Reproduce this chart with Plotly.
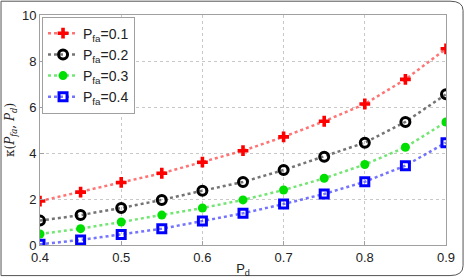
import plotly.graph_objects as go

pd_vals = [0.4, 0.45, 0.5, 0.55, 0.6, 0.65, 0.7, 0.75, 0.8, 0.85, 0.9]
k_01 = [1.91, 2.30, 2.72, 3.12, 3.60, 4.10, 4.70, 5.38, 6.13, 7.20, 8.53]
k_02 = [1.06, 1.30, 1.61, 1.96, 2.36, 2.74, 3.26, 3.84, 4.45, 5.35, 6.55]
k_03 = [0.48, 0.71, 1.00, 1.30, 1.61, 1.96, 2.39, 2.90, 3.50, 4.25, 5.35]
k_04 = [0.03, 0.22, 0.46, 0.71, 1.04, 1.38, 1.78, 2.22, 2.75, 3.45, 4.45]
names = ["P<sub>fa</sub>=0.1", "P<sub>fa</sub>=0.2", "P<sub>fa</sub>=0.3", "P<sub>fa</sub>=0.4"]
x_ticks = [0.4, 0.5, 0.6, 0.7, 0.8, 0.9]
y_ticks = [0, 2, 4, 6, 8, 10]

fig = go.Figure()
styles = [
    dict(color="#ff0000", line="rgba(255,70,70,0.75)", symbol="cross", size=9, lw=0),
    dict(color="#000000", line="rgba(70,70,70,0.75)", symbol="circle-open", size=9, lw=3),
    dict(color="#00e000", line="rgba(70,220,70,0.75)", symbol="circle", size=9, lw=0),
    dict(color="#0000ff", line="rgba(70,70,255,0.75)", symbol="square-open", size=8, lw=3),
]
for ys, nm, st in zip([k_01, k_02, k_03, k_04], names, styles):
    fig.add_trace(go.Scatter(
        x=pd_vals, y=ys, name=nm, mode="lines+markers",
        line=dict(color=st["line"], width=2.5, dash="dot"),
        marker=dict(symbol=st["symbol"], size=st["size"], color=st["color"],
                    line=dict(color=st["color"], width=st["lw"])),
    ))

axis_common = dict(
    showline=True, linecolor="#a0a0a0", linewidth=1, mirror=True,
    ticks="inside", ticklen=4, tickcolor="#a0a0a0",
    showgrid=True, gridcolor="#c8c8c8", griddash="dot", gridwidth=1,
    zeroline=False, automargin=False,
    tickfont=dict(family="Liberation Sans, Arial", size=13, color="#222"),
)
fig.update_xaxes(range=[0.4, 0.9], tickvals=x_ticks, ticktext=[str(v) for v in x_ticks],
                 title=dict(text="P<sub>d</sub>", font=dict(family="Liberation Sans, Arial", size=13, color="#222"), standoff=2),
                 **axis_common)
fig.update_yaxes(range=[0, 10], tickvals=y_ticks,
                 title=dict(text="κ(<i>P<sub>fa</sub></i>, <i>P<sub>d</sub></i>)",
                            font=dict(family="DejaVu Serif, serif", size=12, color="#222"), standoff=4),
                 **axis_common)

fig.update_layout(
    width=465, height=278,
    margin=dict(l=40, r=19, t=15, b=33),
    paper_bgcolor="white", plot_bgcolor="white",
    showlegend=True,
    legend=dict(x=0.005, y=0.993, xanchor="left", yanchor="top",
                bgcolor="white", bordercolor="#a0a0a0", borderwidth=1,
                font=dict(family="Liberation Sans, Arial", size=14, color="#222"),
                tracegroupgap=3, itemwidth=30),
    shapes=[dict(type="path", xref="paper", yref="paper",
                 path="M -0.096,1.06 L 1.01,1.06 Q 1.042,1.06 1.042,1.02 L 1.042,-0.09 Q 1.042,-0.133 1.01,-0.133 L -0.096,-0.133 Z",
                 line=dict(color="#555", width=1), layer="below")],
)

fig.write_html("out.html")
